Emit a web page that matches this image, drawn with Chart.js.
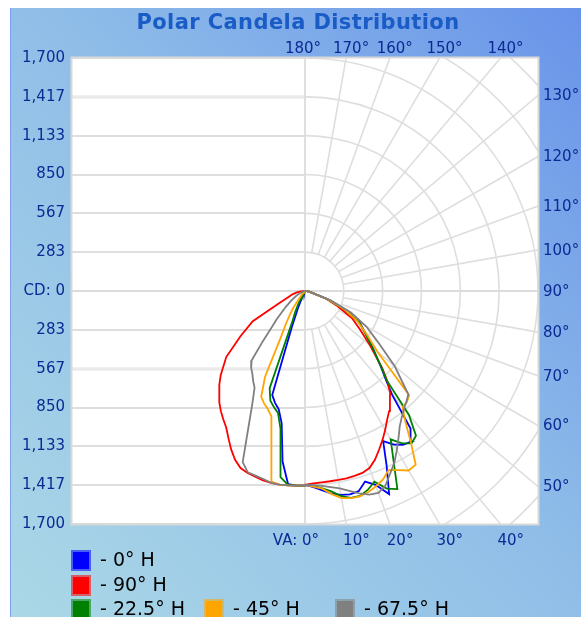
<!DOCTYPE html>
<html><head><meta charset="utf-8">
<script src="https://cdn.jsdelivr.net/npm/chart.js@4.4.1/dist/chart.umd.min.js"></script>
<style>
html,body{margin:0;padding:0;background:#fff;width:581px;height:617px;overflow:hidden;}
#panel{position:absolute;left:10px;top:8px;width:571px;height:609px;background:linear-gradient(to top right,#abd8e6 0%,#8ebce8 55%,#6893ea 100%);}
#edge{position:absolute;left:10px;top:8px;width:1px;height:609px;background:#7d9ff0;}
#c{position:absolute;left:10px;top:8px;}
</style></head><body>
<div id="panel"></div><div id="edge"></div>
<canvas id="c" width="571" height="609"></canvas>
<script>
// ---------- data ----------
const chartTitle = 'Polar Candela Distribution';
const verticalAngles = [0,2.5,5,7.5,10,12.5,15,17.5,20,22.5,25,27.5,30,32.5,35,37.5,40,42.5,45,50,55,60,65,70,75,80,85,90];

const seriesLabels = ['0° H','90° H','22.5° H','45° H','67.5° H'];
const seriesColors = ['#0000ff','#ff0000','#008000','#ffa500','#808080'];

// candela, right half of the polar plot
const h0Right   = [1415,1432,1460,1492,1510,1520,1512,1458,1505,1604,1410,1235,1295,1330,1343,1265,990,870,785,645,540,460,320,175,60,30,12,0];
const h90Right  = [1413,1405,1401,1400,1400,1400,1397,1392,1375,1333,1278,1225,1170,1115,1070,1018,965,888,798,620,490,395,260,165,60,30,12,0];
const h225Right = [1415,1425,1445,1475,1520,1546,1548,1522,1480,1560,1595,1400,1250,1318,1356,1330,1180,880,790,640,535,455,320,175,60,30,12,0];
const h45Right  = [1415,1428,1448,1495,1535,1548,1551,1538,1516,1488,1442,1473,1512,1503,1346,1203,1108,1100,1075,690,550,440,320,175,60,30,12,0];
const h675Right = [1415,1418,1428,1443,1462,1493,1528,1558,1568,1535,1470,1412,1340,1270,1205,1160,1123,1095,1066,855,650,515,370,200,60,30,12,0];
// candela, left half of the polar plot
const h0Left   = [1420,1422,1415,1255,980,885,845,795,282,125,40,28,18,13,10,8,6,5,4,3,2,2,1,1,1,0,0,0];
const h90Left  = [1420,1422,1424,1425,1422,1415,1403,1393,1375,1333,1275,1210,1150,1110,1070,1025,975,925,870,750,575,440,200,128,95,60,30,0];
const h225Left = [1420,1422,1420,1370,1025,911,877,840,754,240,170,105,41,27,20,15,12,10,8,6,5,4,3,2,2,1,1,0];
const h45Left  = [1420,1422,1424,1425,1412,1133,947,903,873,835,690,385,280,210,150,75,40,28,20,12,8,6,4,3,2,1,1,0];
const h675Left = [1420,1422,1424,1425,1421,1405,1395,1387,1329,1080,910,797,757,715,685,640,480,359,292,188,123,80,50,22,15,10,5,0];

// candela axis ticks (ascending) and their labels
const cdTickValues = [-1700,-1416.67,-1133.33,-850,-566.67,-283.33,0,283.33,566.67,850,1133.33,1416.67,1700];
const cdTickLabels = ['1,700','1,417','1,133','850','567','283','CD: 0','283','567','850','1,133','1,417','1,700'];
const ringValues = [283.33,566.67,850,1133.33,1416.67,1700,1983.33,2266.67,2550];
const rayAngles = [10,20,30,40,50,60,70,80,100,110,120,130,140,150,160,170];
const topAngles = [180,170,160,150,140];
const rightAngles = [130,120,110,100,90,80,70,60,50];
const bottomAngles = [0,10,20,30,40];

// ---------- build ----------
function toXY(left, right){
  const pts = [];
  for (let i = verticalAngles.length-1; i >= 0; i--){
    const t = verticalAngles[i]*Math.PI/180;
    pts.push({x: -left[i]*Math.sin(t), y: -left[i]*Math.cos(t)});
  }
  for (let i = 0; i < verticalAngles.length; i++){
    const t = verticalAngles[i]*Math.PI/180;
    pts.push({x: right[i]*Math.sin(t), y: -right[i]*Math.cos(t)});
  }
  return pts;
}
const seriesData = [toXY(h0Left,h0Right), toXY(h90Left,h90Right), toXY(h225Left,h225Right), toXY(h45Left,h45Right), toXY(h675Left,h675Right)];
const drawOrder = [4,3,2,1,0];

const FONT = 'DejaVu Sans';
const LABEL_COLOR = '#0b2a94';

const gridPlugin = {
  id:'polarGrid',
  beforeDatasetsDraw(chart){
    const {ctx, chartArea:a, scales:{x,y}} = chart;
    const cx = x.getPixelForValue(0), cy = y.getPixelForValue(0);
    const k = (x.getPixelForValue(1700)-cx)/1700;
    ctx.save();
    ctx.fillStyle = '#ffffff';
    ctx.fillRect(a.left, a.top, a.width, a.height);
    ctx.beginPath(); ctx.rect(a.left, a.top, a.width, a.height); ctx.clip();
    // horizontal candela lines, left half
    cdTickValues.forEach(v => {
      if (v === 0) return;
      const py = Math.round(y.getPixelForValue(v));
      const thick = (v === 1416.67 || v === -566.67);
      ctx.strokeStyle = thick ? '#ebebeb' : '#dedede';
      ctx.lineWidth = thick ? 3.5 : 1.8;
      ctx.beginPath(); ctx.moveTo(a.left, py); ctx.lineTo(cx, py); ctx.stroke();
    });
    ctx.strokeStyle = '#dcdcdc'; ctx.lineWidth = 1.8;
    ctx.beginPath(); ctx.moveTo(a.left, cy); ctx.lineTo(a.right, cy); ctx.stroke();
    ctx.beginPath(); ctx.moveTo(cx, a.top); ctx.lineTo(cx, a.bottom); ctx.stroke();
    // rings, right half
    ctx.strokeStyle = '#dedede'; ctx.lineWidth = 1.6;
    ringValues.forEach(v => {
      ctx.beginPath(); ctx.arc(cx, cy, v*k, -Math.PI/2, Math.PI/2); ctx.stroke();
    });
    // rays
    const r0 = ringValues[0]*k;
    rayAngles.forEach(d => {
      const t = d*Math.PI/180, sx = Math.sin(t), sy = Math.cos(t);
      ctx.beginPath(); ctx.moveTo(cx+sx*r0, cy+sy*r0); ctx.lineTo(cx+sx*900, cy+sy*900); ctx.stroke();
    });
    ctx.restore();
    ctx.save();
    ctx.strokeStyle = '#d8d8d8'; ctx.lineWidth = 2;
    ctx.strokeRect(a.left-0.5, a.top-0.5, a.width+1, a.height+1);
    ctx.restore();
  },
  afterDraw(chart){
    const {ctx, chartArea:a, scales:{x,y}} = chart;
    const cx = x.getPixelForValue(0), cy = y.getPixelForValue(0);
    ctx.save();
    // title
    ctx.font = 'bold 21px "' + FONT + '"';
    ctx.fillStyle = '#1a5cc6';
    ctx.textAlign = 'center'; ctx.textBaseline = 'middle';
    if ('letterSpacing' in ctx) ctx.letterSpacing = '0.4px';
    ctx.fillText(chartTitle, 288, 16);
    if ('letterSpacing' in ctx) ctx.letterSpacing = '0px';
    // angle labels
    ctx.font = '15px "' + FONT + '"';
    ctx.fillStyle = LABEL_COLOR;
    topAngles.forEach(d => {
      const t = d*Math.PI/180;
      const px = cx + (a.top-cy)/Math.cos(t)*Math.sin(t);
      ctx.textAlign = 'center';
      ctx.fillText(d + '°', d === 180 ? px-2 : px+5, a.top-9);
    });
    rightAngles.forEach(d => {
      const t = d*Math.PI/180;
      const py = cy + (a.right-cx)/Math.sin(t)*Math.cos(t);
      ctx.textAlign = 'left';
      ctx.fillText(d + '°', a.right+5, py+1);
    });
    bottomAngles.forEach(d => {
      const t = d*Math.PI/180;
      const px = cx + (a.bottom-cy)*Math.tan(t);
      if (d === 0){ ctx.textAlign = 'right'; ctx.fillText('VA: 0°', px+14, a.bottom+17); }
      else { ctx.textAlign = 'left'; ctx.fillText(d + '°', px-3, a.bottom+17); }
    });
    // legend
    const slots = [[61,542],[61,567],[61,591],[194,591],[325,591]];
    ctx.font = '19px "' + FONT + '"';
    ctx.textAlign = 'left'; ctx.textBaseline = 'middle';
    chart.data.datasets.forEach((ds, i) => {
      const [lx, ly] = slots[i];
      ctx.globalAlpha = 0.55; ctx.fillStyle = ds.borderColor; ctx.fillRect(lx, ly, 20, 21);
      ctx.globalAlpha = 1; ctx.fillRect(lx+2, ly+2, 16, 17);
      ctx.fillStyle = '#000000';
      ctx.fillText('- ' + ds.label, lx+29, ly+11);
    });
    ctx.restore();
  }
};

new Chart(document.getElementById('c'), {
  type: 'scatter',
  data: {
    datasets: seriesLabels.map((lab, i) => ({
      label: lab, data: seriesData[i], showLine: true, pointRadius: 0,
      borderColor: seriesColors[i], backgroundColor: seriesColors[i],
      borderWidth: 1.8, tension: 0, fill: false, order: drawOrder[i]
    }))
  },
  options: {
    responsive: false, animation: false,
    layout: { padding: { left: 0, top: 50, right: 43, bottom: 93 } },
    plugins: { legend: { display: false }, title: { display: false }, tooltip: { enabled: false } },
    scales: {
      x: { type: 'linear', min: -1700, max: 1700, display: false },
      y: {
        type: 'linear', min: -1700, max: 1700, position: 'left',
        afterBuildTicks: s => { s.ticks = cdTickValues.map(v => ({ value: v })); },
        afterFit: s => { s.width = 62; },
        grid: { display: false, drawTicks: false },
        border: { display: false },
        ticks: {
          padding: 7, color: LABEL_COLOR, autoSkip: false, maxRotation: 0,
          font: { family: FONT, size: 15 },
          callback: v => { const i = cdTickValues.indexOf(v); return i >= 0 ? cdTickLabels[i] : ''; }
        }
      }
    }
  },
  plugins: [gridPlugin]
});
</script>
</body></html>
